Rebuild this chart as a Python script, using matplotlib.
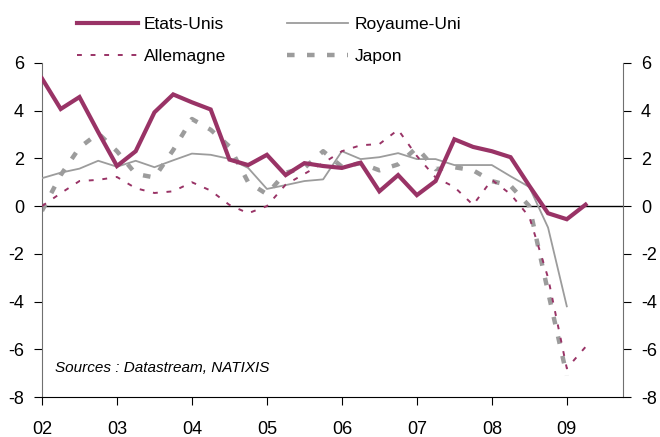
import numpy as np
import matplotlib.pyplot as plt

plt.rcParams['font.family'] = ['Liberation Sans', 'DejaVu Sans']
plt.rcParams['axes.unicode_minus'] = False

# trimestres de 2002T1 a 2009T2
quarters = 2002 + np.arange(30) * 0.25

# croissance du PIB en GA (%)
etats_unis = [5.35, 4.07, 4.57, 3.1,
              1.68, 2.3, 3.93, 4.68,
              4.35, 4.05, 1.95, 1.72,
              2.15, 1.3, 1.8, 1.68,
              1.6, 1.82, 0.62, 1.3,
              0.46, 1.05, 2.8, 2.48,
              2.3, 2.05, 0.85, -0.3,
              -0.55, 0.06]
royaume_uni = [1.17, 1.4, 1.57, 1.9,
               1.65, 1.9, 1.63, 1.92,
               2.2, 2.15, 1.98, 1.6,
               0.72, 0.88, 1.05, 1.12,
               2.3, 1.97, 2.05, 2.22,
               1.97, 1.97, 1.72, 1.72,
               1.72, 1.25, 0.8, -0.9,
               -4.2]
allemagne = [0.0, 0.54, 1.05, 1.1,
             1.22, 0.75, 0.55, 0.62,
             1.0, 0.65, 0.05, -0.3,
             0.0, 0.9, 1.35, 1.8,
             2.3, 2.55, 2.6, 3.2,
             2.1, 1.2, 0.8, 0.05,
             1.1, 0.5, -0.45, -3.0,
             -6.8, -5.9]
japon = [-0.2, 1.3, 2.45, 3.05,
         2.3, 1.35, 1.2, 2.35,
         3.65, 3.2, 2.5, 1.0,
         0.5, 1.4, 1.6, 2.3,
         1.65, 1.8, 1.5, 1.75,
         2.45, 1.55, 1.63, 1.5,
         1.05, 0.85, 0.0, -3.6,
         -7.1]

year_ticks = np.arange(2002, 2010)
year_labels = ['02', '03', '04', '05', '06', '07', '08', '09']
y_ticks = np.arange(-8, 7, 2)

purple = '#993366'
gray = '#9c9c9c'

fig = plt.figure(figsize=(6.6, 4.37), dpi=100)
ax = fig.add_axes([0.0636, 0.0915, 0.8804, 0.7645])

ax.axhline(0, color='black', lw=1.0, zorder=1)

l_us, = ax.plot(quarters[:len(etats_unis)], etats_unis, color=purple, lw=3.0,
                solid_joinstyle='miter', label='Etats-Unis', zorder=5)
l_uk, = ax.plot(quarters[:len(royaume_uni)], royaume_uni, color=gray, lw=1.3,
                label='Royaume-Uni', zorder=3)
l_de, = ax.plot(quarters[:len(allemagne)], allemagne, color=purple, lw=1.4,
                dashes=(2.5, 4.5), label='Allemagne', zorder=4)
l_jp, = ax.plot(quarters[:len(japon)], japon, color=gray, lw=3.2,
                dashes=(1.7, 2.8), label='Japon', zorder=2)

ax.set_xlim(2002, 2009.75)
ax.set_ylim(-8, 6)
ax.set_xticks(year_ticks)
ax.set_xticklabels(year_labels)
ax.set_yticks(y_ticks)

ax.spines['top'].set_visible(False)
ax.spines['bottom'].set_color('black')
ax.spines['left'].set_color('#707070')
ax.spines['right'].set_color('#707070')

ax.tick_params(axis='x', direction='out', length=6, pad=11, labelsize=13)
ax.tick_params(axis='y', direction='out', length=6, pad=7, labelsize=13,
               left=True, right=True, labelleft=True, labelright=True)

ax.text(0.022, 0.087, 'Sources : Datastream, NATIXIS', transform=ax.transAxes,
        fontsize=11, style='italic', va='center', ha='left')

fig.legend(handles=[l_us, l_de, l_uk, l_jp], ncol=2, frameon=False,
           loc='upper left', bbox_to_anchor=(0.1005, 0.985), fontsize=12.5,
           handlelength=3.5, handletextpad=0.35, columnspacing=3.55,
           labelspacing=0.95, borderaxespad=0.2)

fig.savefig('out.png', dpi=100)
